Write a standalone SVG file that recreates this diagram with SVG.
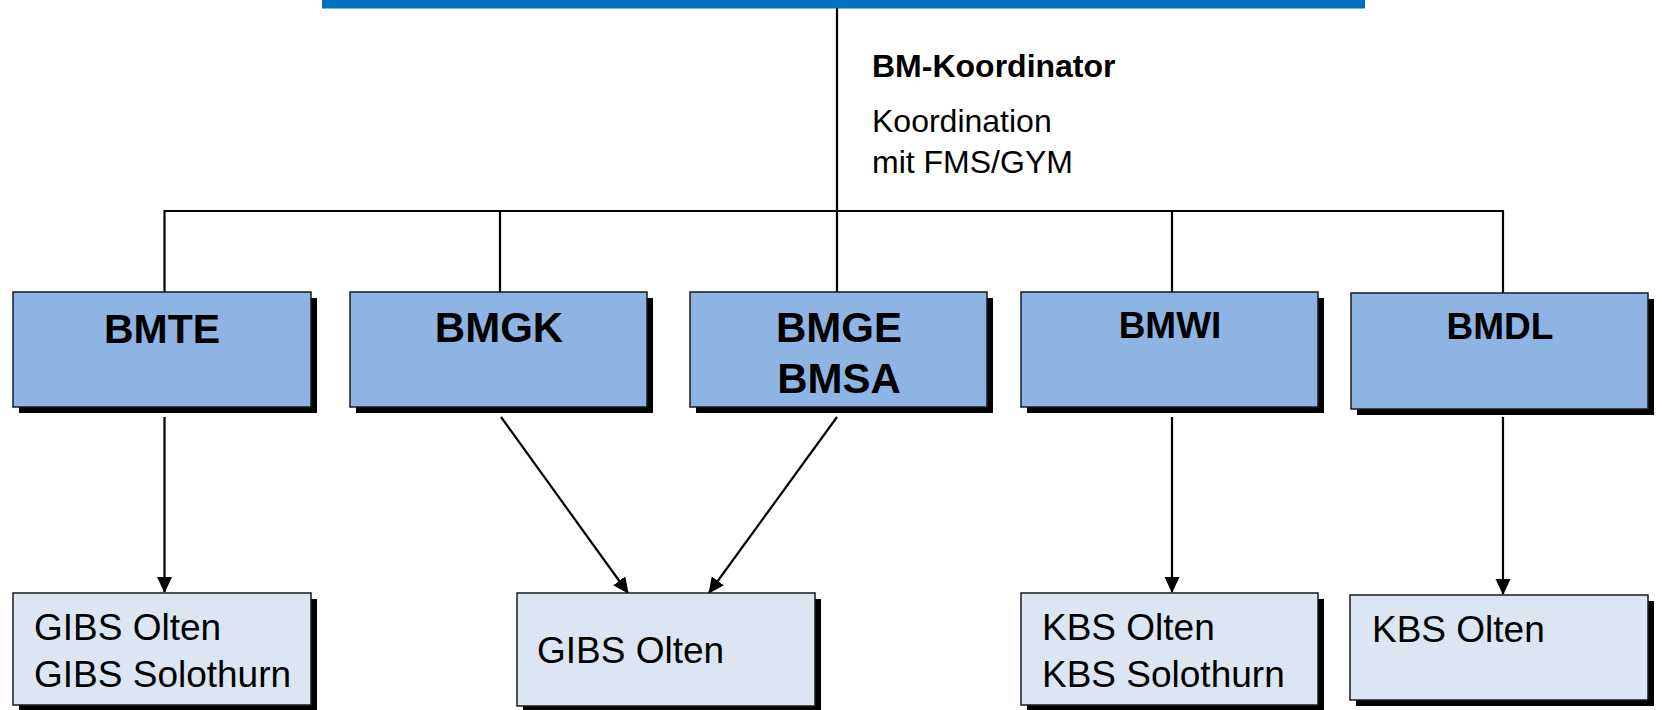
<svg xmlns="http://www.w3.org/2000/svg" width="1662" height="710" viewBox="0 0 1662 710">
  <style>
    .shadow { fill: #000000; }
    .top { fill: #8EB4E3; stroke: #1a1a1a; stroke-width: 1.5; }
    .bot { fill: #DCE6F2; stroke: #1a1a1a; stroke-width: 1.5; }
    .hd { font-family: "Liberation Sans", Arial, sans-serif; font-weight: bold; fill: #000; text-anchor: middle; }
    .tx { font-family: "Liberation Sans", Arial, sans-serif; fill: #000; font-size: 37px; }
    .ln { fill: none; stroke: #000; stroke-width: 2.2; }
    .ar { fill: none; stroke: #000; stroke-width: 2.2; marker-end: url(#arrow); }
  </style>
  <defs>
    <marker id="arrow" markerUnits="userSpaceOnUse" markerWidth="16" markerHeight="16" refX="15" refY="7.5" orient="auto">
      <path d="M0,0 L16,7.5 L0,15 z" fill="#000"/>
    </marker>
  </defs>
  <rect width="1662" height="710" fill="#ffffff"/>

  <rect id="topbar" x="322" y="0" width="1043" height="8.5" fill="#0070C0"/>

  <g id="connectors">
    <line class="ln" x1="837" y1="8" x2="837" y2="292"/>
    <line class="ln" x1="164.5" y1="211" x2="1503" y2="211"/>
    <line class="ln" x1="164.5" y1="210" x2="164.5" y2="292"/>
    <line class="ln" x1="500" y1="211" x2="500" y2="292"/>
    <line class="ln" x1="1172" y1="211" x2="1172" y2="292"/>
    <line class="ln" x1="1503" y1="210" x2="1503" y2="293"/>
    <line class="ar" x1="164.5" y1="417" x2="164.5" y2="592"/>
    <line class="ar" x1="501" y1="417" x2="628" y2="593"/>
    <line class="ar" x1="837" y1="417" x2="709" y2="593"/>
    <line class="ar" x1="1172" y1="417" x2="1172" y2="592"/>
    <line class="ar" x1="1503" y1="417" x2="1503" y2="594"/>
  </g>

  <g id="coordinator">
    <text x="872" y="77" font-family="Liberation Sans, Arial, sans-serif" font-weight="bold" font-size="32">BM-Koordinator</text>
    <text x="872" y="132" font-family="Liberation Sans, Arial, sans-serif" font-size="32">Koordination</text>
    <text x="872" y="173" font-family="Liberation Sans, Arial, sans-serif" font-size="32">mit FMS/GYM</text>
  </g>

  <g id="bmte">
    <rect class="shadow" x="19" y="298" width="298" height="115"/>
    <rect class="top" x="13" y="292" width="298" height="115"/>
    <text class="hd" x="162" y="343" font-size="41">BMTE</text>
  </g>
  <g id="bmgk">
    <rect class="shadow" x="356" y="298" width="297" height="115"/>
    <rect class="top" x="350" y="292" width="297" height="115"/>
    <text class="hd" x="499" y="342" font-size="42">BMGK</text>
  </g>
  <g id="bmge">
    <rect class="shadow" x="696" y="298" width="297" height="115"/>
    <rect class="top" x="690" y="292" width="297" height="115"/>
    <text class="hd" x="839" y="342" font-size="42">BMGE</text>
    <text class="hd" x="839" y="393" font-size="42">BMSA</text>
  </g>
  <g id="bmwi">
    <rect class="shadow" x="1027" y="298" width="297" height="115"/>
    <rect class="top" x="1021" y="292" width="297" height="115"/>
    <text class="hd" x="1170" y="338" font-size="37">BMWI</text>
  </g>
  <g id="bmdl">
    <rect class="shadow" x="1357" y="299" width="297" height="116"/>
    <rect class="top" x="1351" y="293" width="297" height="116"/>
    <text class="hd" x="1500" y="339" font-size="37">BMDL</text>
  </g>

  <g id="gibs1">
    <rect class="shadow" x="19" y="599" width="298" height="112"/>
    <rect class="bot" x="13" y="593" width="298" height="112"/>
    <text class="tx" x="34" y="640">GIBS Olten</text>
    <text class="tx" x="34" y="687">GIBS Solothurn</text>
  </g>
  <g id="gibs2">
    <rect class="shadow" x="523" y="599" width="298" height="113"/>
    <rect class="bot" x="517" y="593" width="298" height="113"/>
    <text class="tx" x="537" y="663">GIBS Olten</text>
  </g>
  <g id="kbs1">
    <rect class="shadow" x="1027" y="599" width="297" height="112"/>
    <rect class="bot" x="1021" y="593" width="297" height="112"/>
    <text class="tx" x="1042" y="640">KBS Olten</text>
    <text class="tx" x="1042" y="687">KBS Solothurn</text>
  </g>
  <g id="kbs2">
    <rect class="shadow" x="1356" y="601" width="298" height="105"/>
    <rect class="bot" x="1350" y="595" width="298" height="105"/>
    <text class="tx" x="1372" y="642">KBS Olten</text>
  </g>
</svg>
